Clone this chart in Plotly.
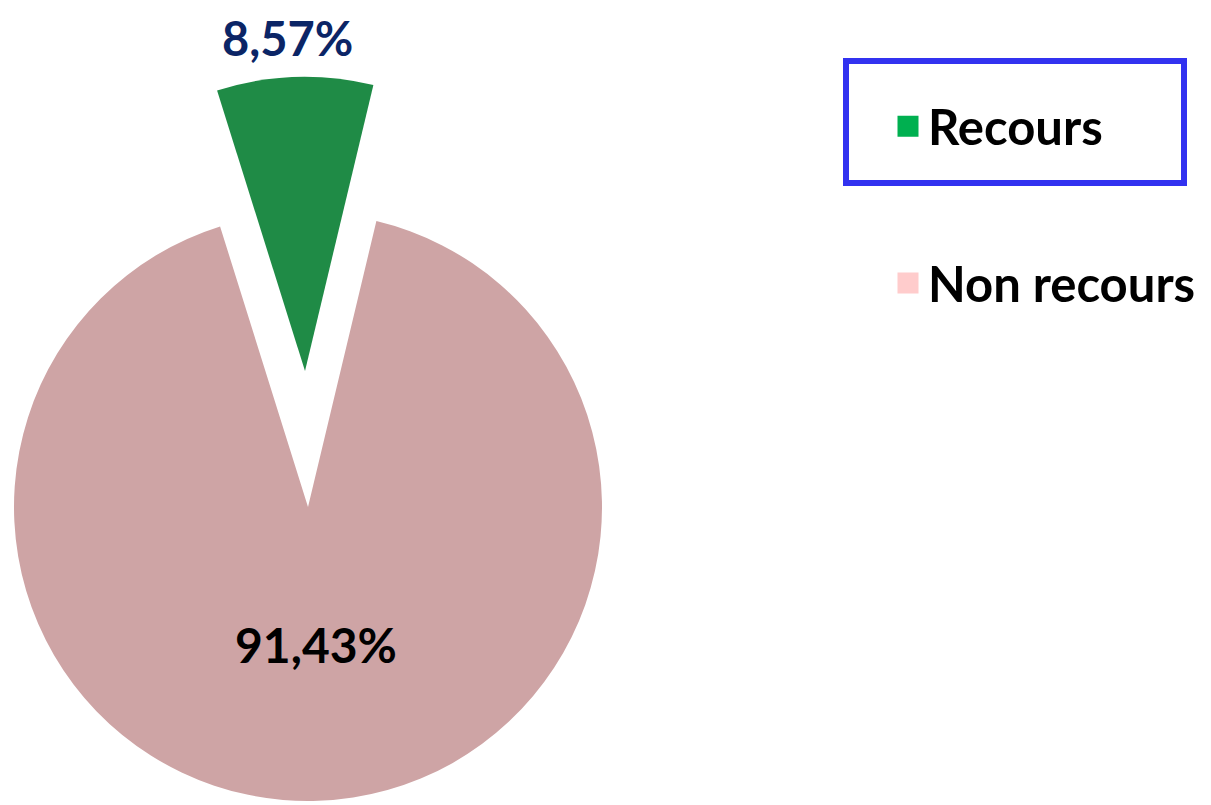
import plotly.graph_objects as go

labels = ["Recours", "Non recours"]
values = [8.57, 91.43]
text_labels = ["8,57%", "91,43%"]

pie_colors = ["#1f8b46", "#cea4a5"]
legend_colors = ["#00b050", "#ffcccc"]
label_colors = ["#0b2566", "#000000"]

# The page body has an 8px margin, so the figure is drawn 8px in from the window corner.
OFF = 8
WIN_W, WIN_H = 1211, 805
W, H = WIN_W - OFF, WIN_H - OFF
FONT = "Lato"


def fx(X):
    return (X - OFF) / W


def fy(Y):
    return 1 - (Y - OFF) / H


def dom(cx, cy, r):
    return dict(x=[fx(cx - r), fx(cx + r)], y=[fy(cy + r), fy(cy - r)])


fig = go.Figure()

# Main (non recours) disc, with the Recours slot left empty
fig.add_trace(go.Pie(
    labels=labels, values=values, sort=False, direction="clockwise",
    rotation=-17.4,
    marker=dict(colors=["rgba(0,0,0,0)", pie_colors[1]], line=dict(width=0)),
    textinfo="none", hoverinfo="none", showlegend=False,
    domain=dom(308, 507, 294),
))

# Exploded Recours slice
fig.add_trace(go.Pie(
    labels=labels, values=values, sort=False, direction="clockwise",
    rotation=-17.4,
    marker=dict(colors=[pie_colors[0], "rgba(0,0,0,0)"], line=dict(width=0)),
    textinfo="none", hoverinfo="none", showlegend=False,
    domain=dom(305, 371, 294),
))

# Legend entries
for i, name in enumerate(labels):
    fig.add_trace(go.Scatter(
        x=[None], y=[None], mode="markers", name=name,
        legendgroup=name,
        marker=dict(symbol="square", size=16, color=legend_colors[i],
                    line=dict(color=legend_colors[i], width=5)),
    ))

# Percentage labels
fig.add_annotation(text=text_labels[0], x=fx(287), y=1, xref="paper", yref="paper",
                   xanchor="center", yanchor="top", showarrow=False,
                   font=dict(family=FONT, size=47, weight="bold", color=label_colors[0]))
fig.add_annotation(text=text_labels[1], x=fx(316), y=fy(644), xref="paper", yref="paper",
                   xanchor="center", yanchor="middle", showarrow=False,
                   font=dict(family=FONT, size=48, weight="bold", color=label_colors[1]))

# Blue frame around the "Recours" legend item
fig.add_shape(type="rect", xref="paper", yref="paper",
              x0=fx(846), x1=fx(1184), y0=fy(183), y1=fy(61),
              line=dict(color="#3232f0", width=6), fillcolor="rgba(0,0,0,0)")

fig.update_layout(
    width=W, height=H,
    margin=dict(l=0, r=0, t=0, b=0),
    paper_bgcolor="white", plot_bgcolor="white",
    xaxis=dict(visible=False), yaxis=dict(visible=False),
    legend=dict(
        x=fx(888), y=fy(88), xanchor="left", yanchor="top",
        font=dict(family=FONT, size=49, weight="bold", color="black"),
        traceorder="grouped", tracegroupgap=90,
        bgcolor="rgba(0,0,0,0)", borderwidth=0,
    ),
)

fig.write_html("out.html")
